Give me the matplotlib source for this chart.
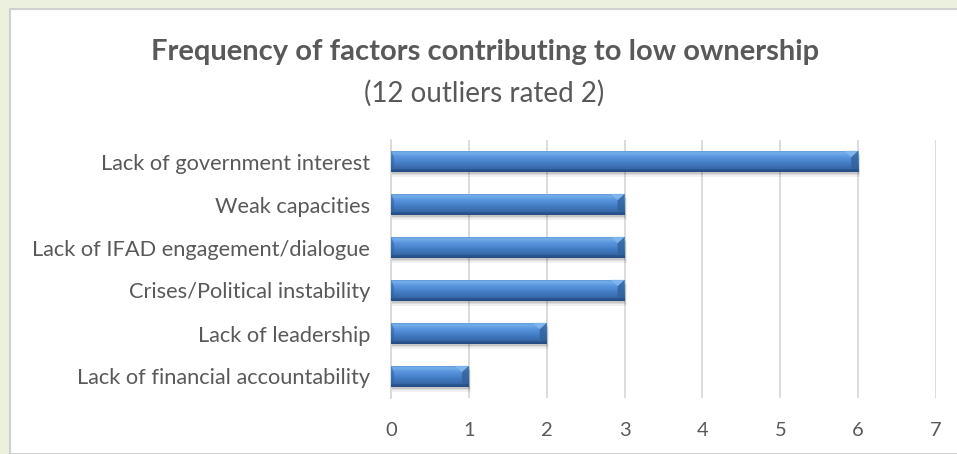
import numpy as np
import matplotlib
matplotlib.use("Agg")
import matplotlib.pyplot as plt
from matplotlib.patches import Rectangle, Polygon
from matplotlib.colors import LinearSegmentedColormap

categories = [
    "Lack of government interest",
    "Weak capacities",
    "Lack of IFAD engagement/dialogue",
    "Crises/Political instability",
    "Lack of leadership",
    "Lack of financial accountability",
]
counts = [6, 3, 3, 3, 2, 1]
x_ticks = [0, 1, 2, 3, 4, 5, 6, 7]
title = "Frequency of factors contributing to low ownership"
subtitle = "(12 outliers rated 2)"

FONT = ["Lato", "DejaVu Sans"]
TXT = "#595959"

W, H = 957, 454
fig = plt.figure(figsize=(W / 100, H / 100), dpi=100)
fig.patch.set_facecolor("#EBF1DE")

# white chart area with gray border
fig.add_artist(Rectangle((9.5 / W, 0), 1.0, 1 - 8.5 / H, transform=fig.transFigure,
                         facecolor="white", edgecolor="#D0D0D0", linewidth=1.5, zorder=0))

ax = fig.add_axes([391 / W, 1 - 398 / H, (936 - 391) / W, (398 - 140) / H])
ax.set_facecolor("none")

ypos = np.arange(len(categories))
bh = 0.5
bars = ax.barh(ypos, counts, height=bh, color="#4680C6", edgecolor="none", zorder=3)

# soft shadows below bars
for b in bars:
    x0, y0, w, h = b.get_x(), b.get_y(), b.get_width(), b.get_height()
    for k, a in [(0.10, 0.06), (0.07, 0.08), (0.04, 0.10)]:
        ax.add_patch(Rectangle((x0, y0 + k), w + k * 0.25, h, facecolor="#000000",
                               alpha=a, edgecolor="none", zorder=2))

cmap = LinearSegmentedColormap.from_list(
    "bev", [(0.0, "#5890D2"), (0.12, "#74AEEA"), (0.3, "#5A96DE"), (0.55, "#4680C8"),
            (0.85, "#3668A8"), (1.0, "#27508C")])
grad = np.linspace(0, 1, 64).reshape(-1, 1)
for b in bars:
    x0, y0, w, h = b.get_x(), b.get_y(), b.get_width(), b.get_height()
    im = ax.imshow(grad, cmap=cmap, aspect="auto", extent=(x0, x0 + w, y0 + h, y0),
                   origin="upper", zorder=4, interpolation="bilinear")
    im.set_clip_path(b)
    # bevel at the right end
    e = 0.09
    ax.add_patch(Polygon([(x0 + w - e, y0 + h * 0.3), (x0 + w, y0), (x0 + w, y0 + h),
                          (x0 + w - e, y0 + h * 0.75)], closed=True,
                         facecolor="#2F5F99", alpha=0.75, edgecolor="none", zorder=5))
    ax.add_patch(Polygon([(x0 + w - e, y0 + h * 0.3), (x0 + w, y0), (x0 + w - 2 * e, y0)],
                         closed=True, facecolor="#8CC0F2", alpha=0.6, edgecolor="none", zorder=5))
    # bevel at the left end
    ax.add_patch(Polygon([(x0, y0), (x0 + 0.04, y0 + h * 0.3), (x0 + 0.04, y0 + h * 0.75),
                          (x0, y0 + h)], closed=True, facecolor="#2F5F99",
                         alpha=0.5, edgecolor="none", zorder=5))
    # bottom dark edge
    ax.add_patch(Rectangle((x0, y0 + h * 0.85), w, h * 0.15, facecolor="#1F4478",
                           alpha=0.35, edgecolor="none", zorder=5))

ax.set_xlim(0, 7)
ax.set_ylim(len(categories) - 0.5, -0.5)
ax.set_xticks(x_ticks)
ax.set_xticklabels([str(t) for t in x_ticks])
ax.set_yticks(ypos)
ax.set_yticklabels(categories)
ax.grid(axis="x", color="#D9D9D9", linewidth=1.3, zorder=1)
ax.set_axisbelow(True)
for s in ["top", "right", "bottom"]:
    ax.spines[s].set_visible(False)
ax.spines["left"].set_color("#D9D9D9")
ax.spines["left"].set_linewidth(1.3)
ax.tick_params(axis="both", length=0, colors=TXT)
ax.tick_params(axis="y", pad=15)
ax.tick_params(axis="x", pad=17)
for lab in ax.get_yticklabels():
    lab.set_fontfamily(FONT)
    lab.set_fontsize(15.7)
    lab.set_color(TXT)
for lab in ax.get_xticklabels():
    lab.set_fontfamily(FONT)
    lab.set_fontsize(14.5)
    lab.set_color(TXT)

fig.text(485 / W, 1 - 52 / H, title, ha="center", va="center", fontsize=21,
         fontweight="bold", color=TXT, family=FONT)
fig.text(484 / W, 1 - 93 / H, subtitle, ha="center", va="center", fontsize=20,
         color=TXT, family=FONT)

fig.savefig("out.png", dpi=100, facecolor=fig.get_facecolor())
